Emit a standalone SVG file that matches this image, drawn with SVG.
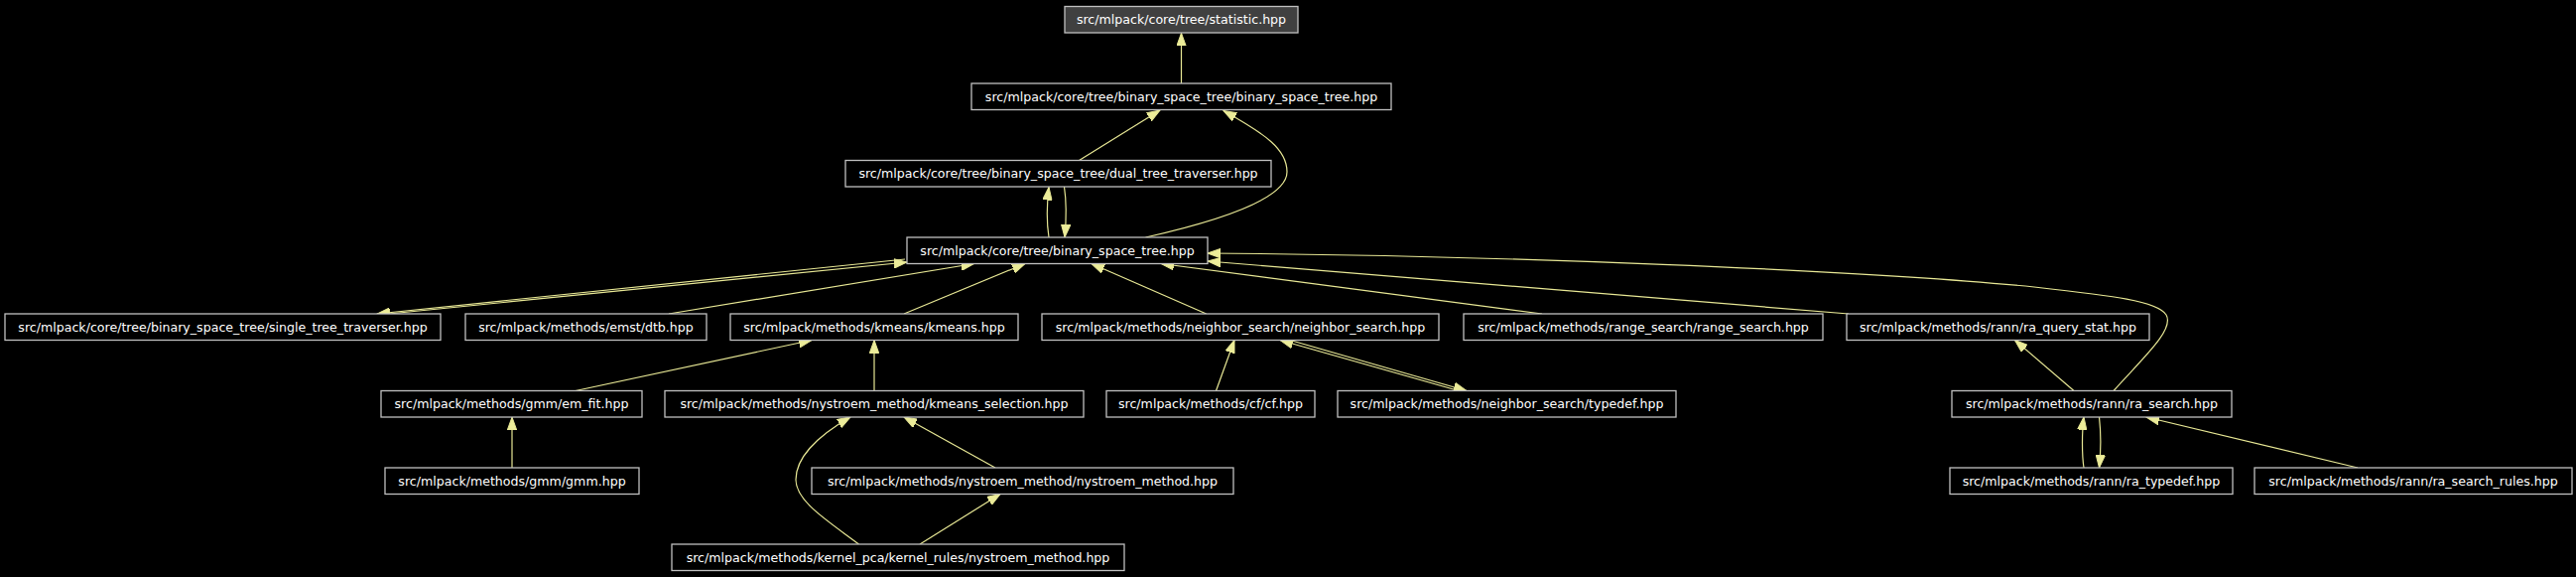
<svg xmlns="http://www.w3.org/2000/svg" width="2596" height="581" viewBox="0 0 2596 581">
<defs>
<style>
.n rect{fill:#000000;stroke:#c0c0c0;stroke-width:1.3}
.n.root rect{fill:#404040}
.n text{font-family:"DejaVu Sans","Liberation Sans",sans-serif;font-size:12.6px;fill:#ffffff;text-anchor:middle}
.e path{fill:none;stroke:#e8e895;stroke-width:1.2;marker-end:url(#arr)}
</style>
<marker id="arr" markerUnits="userSpaceOnUse" markerWidth="14" markerHeight="10" refX="13" refY="5" orient="auto">
<path d="M0,0.3 L13,5 L0,9.7 Z" fill="#ecec99" stroke="#e8e895" stroke-width="1"/>
</marker>
</defs>
<rect x="0" y="0" width="2596" height="581" fill="#000000"/>
<g id="connectors" class="e">
<path d="M1190.5,84 L1190.5,33.3"/>
<path d="M1087.5,161.5 L1169,111"/>
<path d="M1154.5,239 C1230,222 1297,200 1297,173 C1297,150 1275,135 1233,111.5"/>
<path d="M1057,239 C1055,226 1055,205 1057,188.5"/>
<path d="M1072.5,188 C1074.5,201 1074.5,222 1073,239"/>
<path d="M392,316 L914,264"/>
<path d="M912,261 L380,316"/>
<path d="M674,316 L981.7,265.5"/>
<path d="M911,316 L1033,265.5"/>
<path d="M1215.7,316 L1100,265.5"/>
<path d="M1554,316 L1170,265.5"/>
<path d="M1863,316 L1217,263"/>
<path d="M2130,393.5 C2158,362 2192,332 2183,317 C2174,303 2130,298 2050,289 C1880,272 1500,257 1217,255"/>
<path d="M580,393.5 L818,342.5"/>
<path d="M881,393.5 L881,342.5"/>
<path d="M1225.5,393.5 L1244,342.5"/>
<path d="M1470,393.5 L1290,342.5"/>
<path d="M1300,342.5 L1478,393.5"/>
<path d="M2090,393.5 L2030.5,342.5"/>
<path d="M2100,471 C2098,458 2098,435 2100,420"/>
<path d="M2115.5,420 C2117,433 2117,456 2115.5,471"/>
<path d="M2376,471 L2163,420"/>
<path d="M516,471 L516,420"/>
<path d="M1003,471 L911,420"/>
<path d="M865.5,548 C835,525 802,505 802,483 C802,462 822,440 857,420"/>
<path d="M927,548 L1008,497.5"/>
</g>
<g id="statistic" class="n root"><rect x="1073" y="6.5" width="235" height="26.5"/><text x="1190.5" y="24.25">src/mlpack/core/tree/statistic.hpp</text></g>
<g id="bst_bst" class="n"><rect x="979" y="84" width="423" height="26.5"/><text x="1190.5" y="101.75">src/mlpack/core/tree/binary_space_tree/binary_space_tree.hpp</text></g>
<g id="dual_tree_traverser" class="n"><rect x="852" y="161.5" width="429" height="26.5"/><text x="1066.5" y="179.25">src/mlpack/core/tree/binary_space_tree/dual_tree_traverser.hpp</text></g>
<g id="binary_space_tree" class="n"><rect x="914" y="239" width="303" height="26.5"/><text x="1065.5" y="256.75">src/mlpack/core/tree/binary_space_tree.hpp</text></g>
<g id="single_tree_traverser" class="n"><rect x="5" y="316" width="439" height="26.5"/><text x="224.5" y="333.75">src/mlpack/core/tree/binary_space_tree/single_tree_traverser.hpp</text></g>
<g id="dtb" class="n"><rect x="469" y="316" width="243" height="26.5"/><text x="590.5" y="333.75">src/mlpack/methods/emst/dtb.hpp</text></g>
<g id="kmeans" class="n"><rect x="736" y="316" width="290" height="26.5"/><text x="881" y="333.75">src/mlpack/methods/kmeans/kmeans.hpp</text></g>
<g id="neighbor_search" class="n"><rect x="1050" y="316" width="400" height="26.5"/><text x="1250" y="333.75">src/mlpack/methods/neighbor_search/neighbor_search.hpp</text></g>
<g id="range_search" class="n"><rect x="1475" y="316" width="362" height="26.5"/><text x="1656" y="333.75">src/mlpack/methods/range_search/range_search.hpp</text></g>
<g id="ra_query_stat" class="n"><rect x="1861" y="316" width="305" height="26.5"/><text x="2013.5" y="333.75">src/mlpack/methods/rann/ra_query_stat.hpp</text></g>
<g id="em_fit" class="n"><rect x="384" y="393.5" width="263" height="26.5"/><text x="515.5" y="411.25">src/mlpack/methods/gmm/em_fit.hpp</text></g>
<g id="kmeans_selection" class="n"><rect x="670" y="393.5" width="422" height="26.5"/><text x="881" y="411.25">src/mlpack/methods/nystroem_method/kmeans_selection.hpp</text></g>
<g id="cf" class="n"><rect x="1115" y="393.5" width="210" height="26.5"/><text x="1220" y="411.25">src/mlpack/methods/cf/cf.hpp</text></g>
<g id="ns_typedef" class="n"><rect x="1348" y="393.5" width="341" height="26.5"/><text x="1518.5" y="411.25">src/mlpack/methods/neighbor_search/typedef.hpp</text></g>
<g id="ra_search" class="n"><rect x="1967" y="393.5" width="282" height="26.5"/><text x="2108" y="411.25">src/mlpack/methods/rann/ra_search.hpp</text></g>
<g id="gmm" class="n"><rect x="388" y="471" width="256" height="26.5"/><text x="516" y="488.75">src/mlpack/methods/gmm/gmm.hpp</text></g>
<g id="nystroem_method" class="n"><rect x="818" y="471" width="425" height="26.5"/><text x="1030.5" y="488.75">src/mlpack/methods/nystroem_method/nystroem_method.hpp</text></g>
<g id="ra_typedef" class="n"><rect x="1965" y="471" width="285" height="26.5"/><text x="2107.5" y="488.75">src/mlpack/methods/rann/ra_typedef.hpp</text></g>
<g id="ra_search_rules" class="n"><rect x="2272" y="471" width="320" height="26.5"/><text x="2432" y="488.75">src/mlpack/methods/rann/ra_search_rules.hpp</text></g>
<g id="kernel_rules_nystroem" class="n"><rect x="677" y="548" width="456" height="26.5"/><text x="905" y="565.75">src/mlpack/methods/kernel_pca/kernel_rules/nystroem_method.hpp</text></g>
</svg>
